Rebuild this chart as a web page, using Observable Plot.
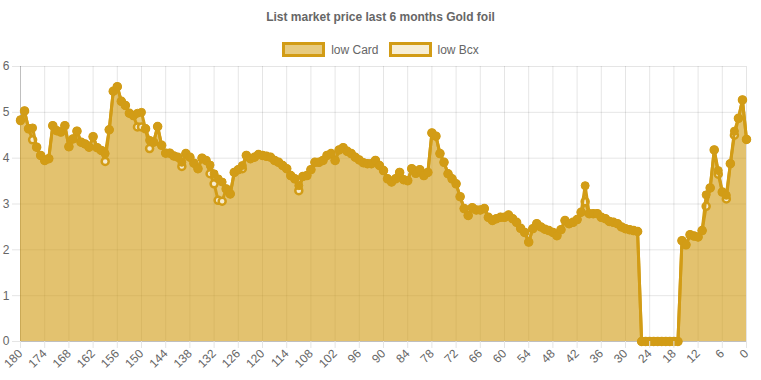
<!DOCTYPE html>
<html>
<head>
<meta charset="utf-8">
<script src="https://cdn.jsdelivr.net/npm/d3@7"></script>
<script src="https://cdn.jsdelivr.net/npm/@observablehq/plot@0.6"></script>
<style>
  body { margin: 0; width: 761px; height: 380px; position: relative; background: #fff; font-family: "Liberation Sans", Arial, Helvetica, sans-serif; overflow: hidden; }
  #title { position: absolute; top: 10px; left: 0; width: 761px; text-align: center; font-size: 12px; font-weight: bold; color: #666; line-height: 14px; }
  #legend { position: absolute; top: 42px; left: 0; width: 761px; display: flex; justify-content: center; align-items: center; font-size: 12px; color: #666; }
  .item { display: flex; align-items: center; margin: 0 5px; }
  .box { width: 37px; height: 9px; border: 3px solid #d29c16; margin-right: 6px; }
  #chart { position: absolute; top: 60px; left: 0; }
</style>
</head>
<body>
<div id="title"></div>
<div id="legend"></div>
<div id="chart"></div>
<script>
const title = "List market price last 6 months Gold foil";
const seriesNames = ["low Card", "low Bcx"];
// days before today, from 180 down to 0 (one value per day)
const days = d3.range(180, -1, -1);
const xTicks = [180,174,168,162,156,150,144,138,132,126,120,114,108,102,96,90,84,78,72,66,60,54,48,42,36,30,24,18,12,6,0];
const yTicks = [0,1,2,3,4,5,6];

const lowCard = [
  4.84,5.03,4.64,4.66,4.24,4.06,3.95,3.99,4.71,4.60,
  4.57,4.71,4.25,4.42,4.59,4.35,4.31,4.24,4.47,4.23,
  4.17,4.10,4.62,5.46,5.56,5.24,5.15,4.98,4.93,4.98,
  5.00,4.64,4.39,4.35,4.69,4.28,4.11,4.11,4.05,4.02,
  3.91,4.10,4.02,3.89,3.77,4.00,3.95,3.85,3.66,3.55,
  3.48,3.33,3.22,3.69,3.75,3.84,4.06,3.99,4.02,4.08,
  4.06,4.04,4.02,3.95,3.91,3.84,3.77,3.62,3.55,3.40,
  3.60,3.62,3.75,3.91,3.91,3.95,4.06,4.10,3.95,4.18,
  4.23,4.15,4.10,4.02,3.96,3.90,3.88,3.88,3.95,3.84,
  3.73,3.55,3.48,3.55,3.69,3.53,3.51,3.77,3.67,3.75,
  3.62,3.69,4.55,4.48,4.10,3.91,3.66,3.55,3.44,3.16,
  2.90,2.75,2.92,2.87,2.87,2.90,2.71,2.64,2.68,2.71,
  2.71,2.76,2.68,2.60,2.47,2.38,2.17,2.46,2.57,2.50,
  2.45,2.42,2.38,2.31,2.44,2.64,2.57,2.60,2.66,2.82,
  3.40,2.79,2.79,2.79,2.71,2.68,2.62,2.60,2.57,2.50,
  2.46,2.44,2.42,2.40,0,0,0,0,0,0,
  0,0,0,0,2.20,2.11,2.33,2.30,2.28,2.42,
  3.20,3.35,4.18,3.73,3.26,3.19,3.88,4.59,4.87,5.27,
  4.41
];
const lowBcx = [
  4.82,5.03,4.64,4.40,4.24,4.06,3.95,3.99,4.71,4.60,
  4.57,4.71,4.25,4.42,4.59,4.35,4.31,4.24,4.47,4.23,
  4.17,3.93,4.62,5.46,5.56,5.24,5.15,4.98,4.93,4.68,
  4.68,4.64,4.21,4.35,4.69,4.28,4.11,4.11,4.05,4.02,
  3.82,4.10,4.02,3.89,3.77,4.00,3.95,3.66,3.44,3.08,
  3.06,3.33,3.22,3.69,3.75,3.77,4.06,3.99,4.02,4.08,
  4.06,4.04,4.02,3.95,3.91,3.84,3.77,3.62,3.55,3.29,
  3.60,3.62,3.75,3.91,3.91,3.95,4.06,4.10,3.95,4.18,
  4.23,4.15,4.10,4.02,3.96,3.90,3.88,3.88,3.95,3.84,
  3.73,3.55,3.48,3.55,3.69,3.53,3.51,3.77,3.67,3.75,
  3.62,3.69,4.55,4.48,4.10,3.91,3.66,3.55,3.44,3.16,
  2.90,2.75,2.92,2.87,2.87,2.90,2.71,2.64,2.68,2.71,
  2.71,2.76,2.68,2.60,2.47,2.38,2.17,2.46,2.57,2.50,
  2.45,2.42,2.38,2.31,2.44,2.64,2.57,2.60,2.66,2.82,
  3.05,2.79,2.79,2.79,2.71,2.68,2.62,2.60,2.57,2.50,
  2.46,2.44,2.42,2.40,0,0,0,0,0,0,
  0,0,0,0,2.20,2.11,2.33,2.30,2.28,2.42,
  2.95,3.35,4.18,3.65,3.26,3.11,3.88,4.50,4.87,5.27,
  4.41
];

const gold = "#d29c16";
const cardData = days.map((d, i) => ({day: d, v: lowCard[i]}));
const bcxData = days.map((d, i) => ({day: d, v: lowBcx[i]}));

document.getElementById("title").textContent = title;
const legend = document.getElementById("legend");
const legendFills = ["rgba(212,160,23,0.55)", "rgba(212,160,23,0.18)"];
seriesNames.forEach((name, i) => {
  const it = document.createElement("div");
  it.className = "item";
  const b = document.createElement("div");
  b.className = "box";
  b.style.background = legendFills[i];
  const t = document.createElement("span");
  t.textContent = name;
  it.appendChild(b); it.appendChild(t);
  legend.appendChild(it);
});

const chart = Plot.plot({
  width: 761,
  height: 320,
  marginTop: 6,
  marginBottom: 39,
  marginLeft: 20,
  marginRight: 15,
  style: {fontFamily: "'Liberation Sans', Arial, sans-serif", fontSize: "12px", background: "transparent"},
  x: {type: "linear", domain: [180, 0]},
  y: {domain: [0, 6]},
  marks: [
    Plot.ruleX(xTicks, {stroke: "#000", strokeOpacity: d => d === 180 ? 0.25 : 0.1}),
    Plot.ruleY(yTicks, {stroke: "#000", strokeOpacity: d => d === 0 ? 0.25 : 0.1}),
    Plot.areaY(bcxData, {x: "day", y: "v", fill: gold, fillOpacity: 0.15}),
    Plot.areaY(cardData, {x: "day", y: "v", fill: gold, fillOpacity: 0.55}),
    Plot.lineY(bcxData, {x: "day", y: "v", stroke: gold, strokeWidth: 3}),
    Plot.dot(bcxData, {x: "day", y: "v", r: 3.5, fill: "#f6ecd2", stroke: gold, strokeWidth: 2.5}),
    Plot.lineY(cardData, {x: "day", y: "v", stroke: gold, strokeWidth: 3}),
    Plot.dot(cardData, {x: "day", y: "v", r: 4, fill: gold, stroke: gold, strokeWidth: 1}),
    Plot.axisY({ticks: yTicks, tickSize: 8, tickPadding: 3, stroke: "#e5e5e5", fill: "#666", label: null, tickFormat: d => String(d)}),
    Plot.axisX({ticks: xTicks, tickSize: 7, tickPadding: 3, tickRotate: -45, stroke: "#e5e5e5", fill: "#666", label: null, tickFormat: d => String(d)})
  ]
});
document.getElementById("chart").appendChild(chart);
</script>
</body>
</html>
